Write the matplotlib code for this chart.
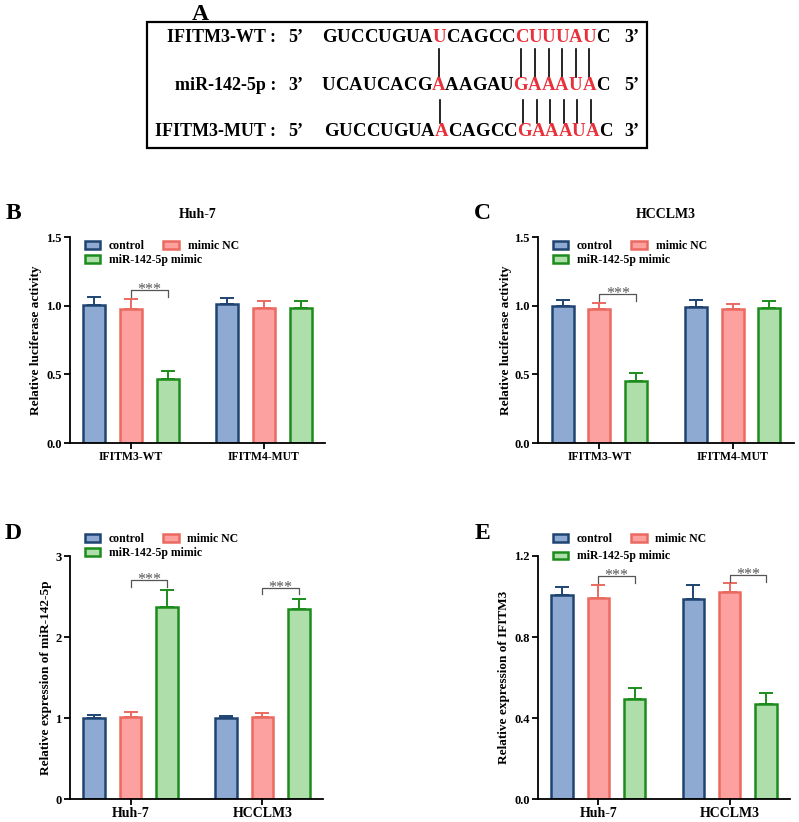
import numpy as np
import matplotlib
matplotlib.use("Agg")
import matplotlib.pyplot as plt
from matplotlib.patches import Rectangle, Patch

plt.rcParams['font.family'] = ['Liberation Serif', 'DejaVu Serif']
plt.rcParams['font.weight'] = 'bold'
plt.rcParams['axes.labelweight'] = 'bold'

# ---- data ----
series = ['control', 'mimic NC', 'miR-142-5p mimic']
fill_colors = ['#8eaad2', '#fda0a0', '#aedfab']
edge_colors = ['#1f4472', '#eb6a60', '#1c8c1c']

luc_groups = ['IFITM3-WT', 'IFITM4-MUT']
cell_groups = ['Huh-7', 'HCCLM3']

# rows = series (control, mimic NC, miR mimic), cols = groups
b_means = [[1.005, 1.012], [0.976, 0.983], [0.466, 0.983]]
b_errs = [[0.058, 0.044], [0.072, 0.051], [0.058, 0.051]]
c_means = [[0.998, 0.990], [0.976, 0.976], [0.451, 0.983]]
c_errs = [[0.043, 0.051], [0.043, 0.036], [0.059, 0.051]]
d_means = [[1.00, 1.00], [1.01, 1.015], [2.37, 2.35]]
d_errs = [[0.04, 0.03], [0.06, 0.05], [0.21, 0.12]]
e_means = [[1.007, 0.986], [0.994, 1.022], [0.494, 0.469]]
e_errs = [[0.041, 0.071], [0.063, 0.043], [0.056, 0.056]]

# significance brackets: (group, bar height, tick bottom)
b_sig = [(0, 1.114, 1.065)]
c_sig = [(0, 1.085, 1.036)]
d_sig = [(0, 2.70, 2.62), (1, 2.61, 2.53)]
e_sig = [(0, 1.101, 1.068), (1, 1.106, 1.073)]

# panel A sequences
row_names = ['IFITM3-WT', 'miR-142-5p', 'IFITM3-MUT']
left_ends = ['5\u2019', '3\u2019', '5\u2019']
right_ends = ['3\u2019', '5\u2019', '3\u2019']
seqs = ['GUCCUGUAUCAGCCCUUUAUC',
        'UCAUCACGAAAGAUGAAAUAC',
        'GUCCUGUAACAGCCGAAAUAC']
paired = [8, 14, 15, 16, 17, 18, 19]

fig = plt.figure(figsize=(7.99, 8.22), dpi=100)
W, H = 799, 822

# ---- panel A (drawn in pixel coords) ----
ov = fig.add_axes([0, 0, 1, 1])
ov.set_xlim(0, W)
ov.set_ylim(H, 0)
ov.axis('off')
ov.add_patch(Rectangle((147, 22), 500, 126, fill=False, lw=1.6, ec='black'))
renderer = fig.canvas.get_renderer()
inv = ov.transData.inverted()
row_y = [37, 86, 132]
seq_x0 = [322, 322, 324]
centers = []
for r in range(3):
    y = row_y[r]
    ov.text(276, y, row_names[r] + ' :', ha='right', va='center', fontsize=13)
    ov.text(296, y, left_ends[r], ha='center', va='center', fontsize=13)
    ov.text(632, y, right_ends[r], ha='center', va='center', fontsize=13)
    xpos = seq_x0[r]
    row_c = []
    for i, ch in enumerate(seqs[r]):
        col = '#e8303a' if i in paired else 'black'
        t = ov.text(xpos, y, ch, ha='left', va='center', fontsize=13.5, color=col)
        bb = t.get_window_extent(renderer)
        x_left = inv.transform((bb.x0, bb.y0))[0]
        x_right = inv.transform((bb.x1, bb.y0))[0]
        row_c.append((x_left + x_right) / 2)
        xpos = x_right
    centers.append(row_c)
for i in paired:
    xa = (centers[0][i] + centers[1][i]) / 2
    xb = (centers[1][i] + centers[2][i]) / 2
    ov.plot([xa, xa], [49, 77], color='black', lw=1.2)
    ov.plot([xb, xb], [100, 123], color='black', lw=1.2)

ov.text(200, 14, 'A', ha='center', va='center', fontsize=17)
ov.text(13, 213, 'B', ha='center', va='center', fontsize=17)
ov.text(482, 213, 'C', ha='center', va='center', fontsize=17)
ov.text(13, 533, 'D', ha='center', va='center', fontsize=17)
ov.text(482, 533, 'E', ha='center', va='center', fontsize=17)


def px_axes(left, right, top, bottom):
    return fig.add_axes([left / W, 1 - bottom / H, (right - left) / W, (bottom - top) / H])


def draw_panel(ax, groups, means, errs, ylim, yticks, ylabel, sigs, xtick_fs, leg_y, label_x):
    x = np.arange(len(groups))
    off = 0.276
    width = 0.165
    for k in range(3):
        xs = x + (k - 1) * off
        ax.bar(xs, means[k], width, color=fill_colors[k], edgecolor=edge_colors[k],
               linewidth=1.8, zorder=2)
        ax.errorbar(xs, means[k], yerr=[np.zeros(len(groups)), errs[k]], fmt='none',
                    ecolor=edge_colors[k], elinewidth=1.4, capsize=5, capthick=1.4, zorder=1)
    for g, yb, yt in sigs:
        xa, xb = g, g + off
        ax.plot([xa, xa, xb, xb], [yt, yb, yb, yt], color='#555555', lw=0.9, zorder=3)
        ax.text((xa + xb) / 2, yb, '***', ha='center', va='center', fontsize=11.5,
                color='#555555', fontweight='normal')
    ax.set_xlim(-0.46, 1.46)
    ax.set_ylim(*ylim)
    ax.set_yticks(yticks)
    ax.set_xticks(x)
    ax.set_xticklabels(groups, fontsize=xtick_fs)
    ax.tick_params(axis='y', labelsize=9, width=1.3, length=4, pad=2)
    ax.tick_params(axis='x', width=1.3, length=4, pad=2)
    for lab in ax.get_yticklabels() + ax.get_xticklabels():
        lab.set_fontweight('bold')
    ax.spines['top'].set_visible(False)
    ax.spines['right'].set_visible(False)
    ax.spines['left'].set_linewidth(1.3)
    ax.spines['bottom'].set_linewidth(1.3)
    ax.set_ylabel(ylabel, fontsize=9.5)
    ax.yaxis.set_label_coords(label_x, 0.5)

    handles = [Patch(facecolor=fill_colors[k], edgecolor=edge_colors[k], linewidth=1.8)
               for k in range(3)]
    leg1 = ax.legend(handles[:2], series[:2], ncol=2, loc='center left',
                     bbox_to_anchor=(0.035, leg_y[0]), frameon=False, fontsize=8.5,
                     borderpad=0, handlelength=1.3, handleheight=0.6,
                     handletextpad=0.75, columnspacing=1.55)
    ax.add_artist(leg1)
    ax.legend(handles[2:], series[2:], loc='center left',
              bbox_to_anchor=(0.035, leg_y[1]), frameon=False, fontsize=8.5,
              borderpad=0, handlelength=1.3, handleheight=0.6, handletextpad=0.75)


ax_b = px_axes(70, 325, 237, 443)
draw_panel(ax_b, luc_groups, b_means, b_errs, (0, 1.5), [0, 0.5, 1.0, 1.5],
           'Relative luciferase activity', b_sig, 8.5, (0.955, 0.887), -0.11)
ax_b.set_yticklabels(['0.0', '0.5', '1.0', '1.5'])
ax_b.set_title('Huh-7', fontsize=10, fontweight='bold', pad=14)

ax_c = px_axes(538, 794, 237, 443)
draw_panel(ax_c, luc_groups, c_means, c_errs, (0, 1.5), [0, 0.5, 1.0, 1.5],
           'Relative luciferase activity', c_sig, 8.5, (0.955, 0.887), -0.10)
ax_c.set_yticklabels(['0.0', '0.5', '1.0', '1.5'])
ax_c.set_title('HCCLM3', fontsize=10, fontweight='bold', pad=14)

ax_d = px_axes(70, 323, 556, 799)
draw_panel(ax_d, cell_groups, d_means, d_errs, (0, 3), [0, 1, 2, 3],
           'Relative expression of miR-142-5p', d_sig, 10, (1.07, 1.012), -0.071)

ax_e = px_axes(538, 790, 556, 799)
draw_panel(ax_e, cell_groups, e_means, e_errs, (0, 1.2), [0, 0.4, 0.8, 1.2],
           'Relative expression of IFITM3', e_sig, 10, (1.07, 0.998), -0.111)
ax_e.set_yticklabels(['0.0', '0.4', '0.8', '1.2'])

fig.savefig('out.png', dpi=100)
